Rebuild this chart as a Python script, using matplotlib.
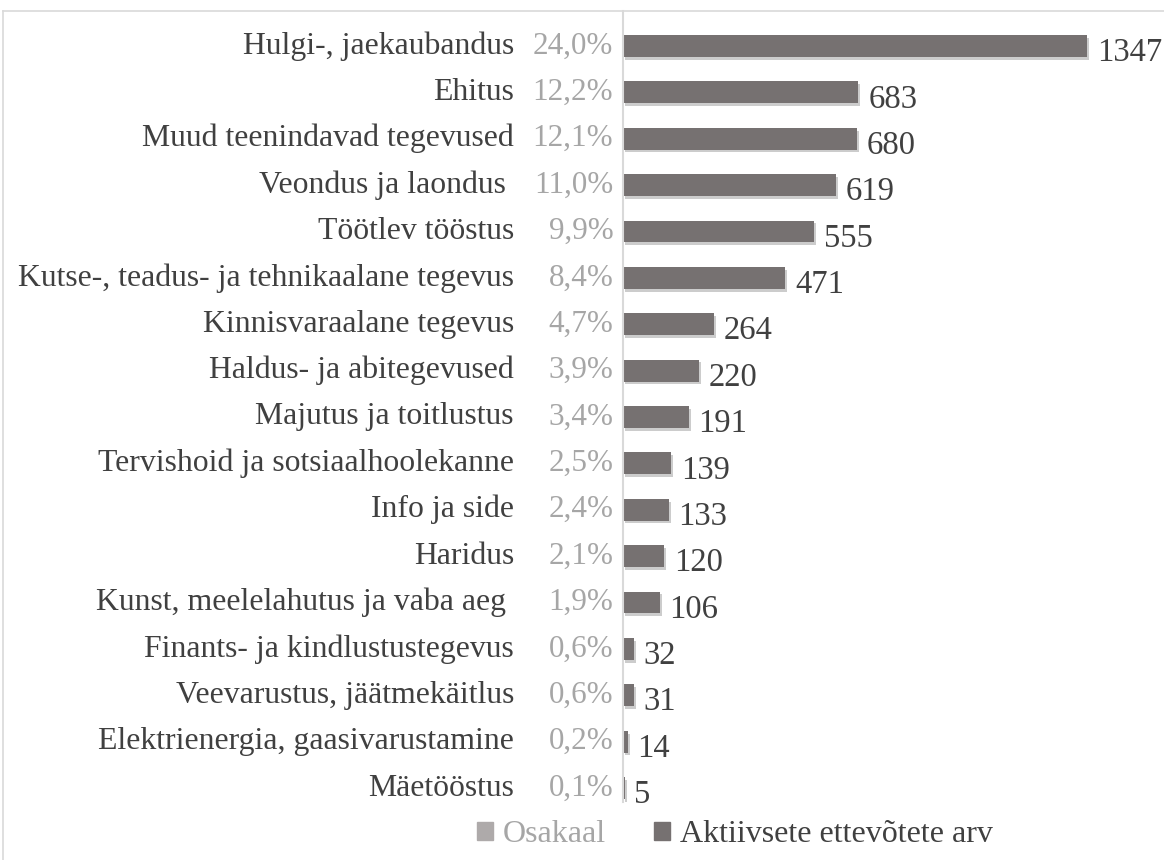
import matplotlib.pyplot as plt
import matplotlib.patheffects as pe
from matplotlib.lines import Line2D
from matplotlib.patches import Patch

# andmed
kategooriad = ['Hulgi-, jaekaubandus', 'Ehitus', 'Muud teenindavad tegevused', 'Veondus ja laondus ',
               'Töötlev tööstus', 'Kutse-, teadus- ja tehnikaalane tegevus', 'Kinnisvaraalane tegevus',
               'Haldus- ja abitegevused', 'Majutus ja toitlustus', 'Tervishoid ja sotsiaalhoolekanne',
               'Info ja side', 'Haridus', 'Kunst, meelelahutus ja vaba aeg ', 'Finants- ja kindlustustegevus',
               'Veevarustus, jäätmekäitlus', 'Elektrienergia, gaasivarustamine', 'Mäetööstus']
arv = [1347, 683, 680, 619, 555, 471, 264, 220, 191, 139, 133, 120, 106, 32, 31, 14, 5]
osakaal = ['24,0%', '12,2%', '12,1%', '11,0%', '9,9%', '8,4%', '4,7%', '3,9%', '3,4%', '2,5%',
           '2,4%', '2,1%', '1,9%', '0,6%', '0,6%', '0,2%', '0,1%']

W, H = 1164, 860
BAR = '#767171'
LIGHT = '#aeaaaa'
TXT = '#404040'
plt.rcParams['font.family'] = ['Liberation Serif', 'DejaVu Serif']
FS = 22.9

fig = plt.figure(figsize=(W / 100, H / 100), dpi=100)
# telje asukoht pikslites
ax = fig.add_axes([623 / W, 1 - 802 / H, 517 / W, 791 / H])
y = list(range(len(arv)))
ax.barh(y, arv, height=0.47, color=BAR,
        path_effects=[pe.SimplePatchShadow(offset=(1.5, -2), shadow_rgbFace='#000000', alpha=0.2), pe.Normal()])
ax.set_xlim(0, 1500)
ax.set_ylim(16 + 14 / 46.4, -35 / 46.4)

for i, v in enumerate(arv):
    ax.annotate(str(v), (v, i), xytext=(7, -5), textcoords='offset points',
                ha='left', va='center', fontsize=23.5, color=TXT, annotation_clip=False)
    ax.annotate(osakaal[i], (0, i), xytext=(-7, 0), textcoords='offset points',
                ha='right', va='center', fontsize=22.4, color='#a6a6a6', annotation_clip=False)
    ax.annotate(kategooriad[i], (0, i), xytext=(-78.5, 0), textcoords='offset points',
                ha='right', va='center', fontsize=FS, color=TXT, annotation_clip=False)

ax.set_xticks([])
ax.set_yticks([])
for s in ['top', 'right', 'bottom']:
    ax.spines[s].set_visible(False)
ax.spines['left'].set_color('#d9d9d9')
ax.spines['left'].set_linewidth(1.5)

# raam ümber joonise
fig.add_artist(Line2D([3 / W, 3 / W], [0, 1 - 11 / H], color='#d9d9d9', lw=1.2))
fig.add_artist(Line2D([3 / W, 1], [1 - 11 / H, 1 - 11 / H], color='#d9d9d9', lw=1.2))

# legend
h = [Patch(color=LIGHT), Patch(color=BAR)]
leg = fig.legend(h, ['Osakaal', 'Aktiivsete ettevõtete arv'], loc='center',
                 bbox_to_anchor=(735 / W, 1 - 835 / H), ncol=2, frameon=False, fontsize=23,
                 handlelength=0.5, handleheight=0.5, handletextpad=0.3, columnspacing=1.5)
leg.get_texts()[0].set_color('#a6a6a6')
leg.get_texts()[1].set_color(TXT)

fig.savefig('out.png', dpi=100)
